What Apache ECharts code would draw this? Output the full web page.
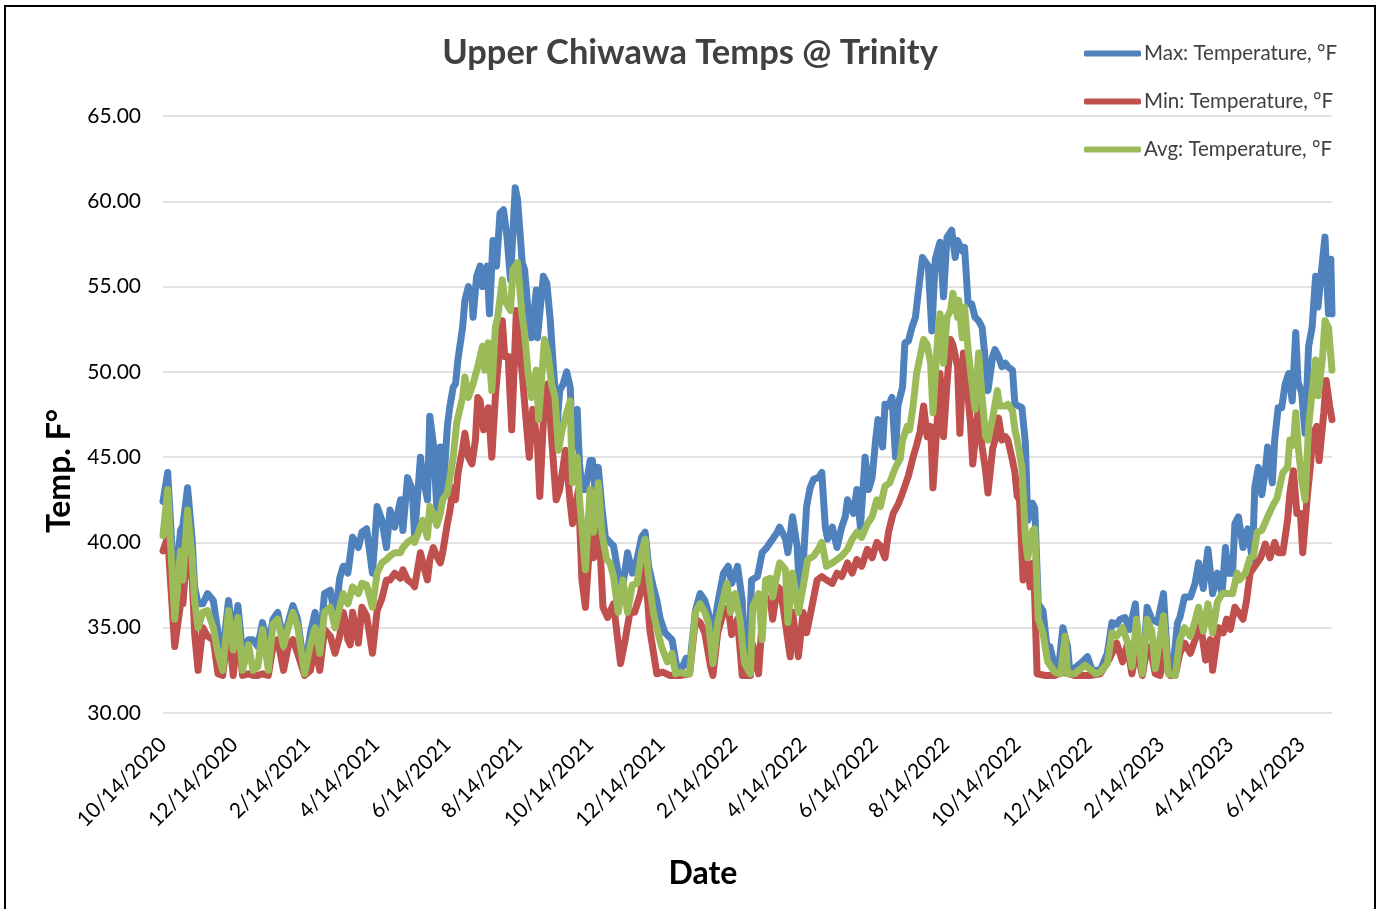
<!DOCTYPE html>
<html>
<head>
<meta charset="utf-8">
<title>Upper Chiwawa Temps @ Trinity</title>
<script src="https://cdn.jsdelivr.net/npm/echarts@6/dist/echarts.min.js"></script>
<style>
  html, body { margin: 0; padding: 0; background: #fff; }
  #chart { width: 1380px; height: 909px; }
</style>
</head>
<body>
<div id="chart"></div>
<script>
// readings are [day offset from 10/14/2020, °F]
const startDate = Date.UTC(2020, 9, 14);
const lastDay = 999;
const DAY = 86400000;

const tickLabels = ['10/14/2020', '12/14/2020', '2/14/2021', '4/14/2021', '6/14/2021', '8/14/2021',
  '10/14/2021', '12/14/2021', '2/14/2022', '4/14/2022', '6/14/2022', '8/14/2022', '10/14/2022',
  '12/14/2022', '2/14/2023', '4/14/2023', '6/14/2023'];

const maxTemp = [[0,42.4],[4,44.1],[10,37.0],[15,40.7],[17,41.0],[21,43.2],[25,40.1],[27,37.4],[30,36.4],[34,36.4],[38,37.0],[43,36.6],[47,34.7],[51,33.5],[56,36.6],[60,34.3],[64,36.3],[68,33.5],[73,34.3],[77,34.3],[81,33.9],[85,35.3],[90,33.9],[94,35.5],[98,35.9],[103,34.3],[107,35.3],[111,36.3],[115,35.5],[121,32.5],[126,34.7],[130,35.9],[134,33.9],[138,37.0],[143,37.2],[147,35.5],[151,37.9],[154,38.6],[156,38.6],[158,38.2],[162,40.3],[167,39.7],[170,40.6],[174,40.8],[179,38.2],[183,42.1],[187,41.3],[191,39.7],[194,41.9],[198,40.9],[203,42.5],[205,40.7],[209,43.8],[213,43.1],[215,40.3],[220,45.0],[222,43.9],[226,42.5],[228,47.4],[231,45.8],[234,42.0],[237,45.6],[239,42.5],[243,46.8],[245,47.9],[248,49.1],[250,49.3],[252,50.7],[256,52.6],[258,54.2],[261,55.0],[264,54.4],[265,53.2],[268,55.6],[271,56.2],[273,55.0],[277,56.2],[279,53.4],[282,57.7],[285,56.2],[288,59.3],[291,59.5],[294,57.9],[297,55.4],[301,60.8],[303,60.1],[307,56.4],[309,56.0],[312,53.6],[315,52.0],[319,54.8],[320,52.0],[325,55.6],[328,55.2],[331,53.0],[333,50.9],[337,47.0],[339,48.9],[342,49.3],[345,50.0],[348,49.1],[350,45.6],[352,47.6],[354,47.8],[355,46.0],[356,44.6],[358,43.1],[361,43.1],[365,44.8],[367,44.8],[369,43.2],[372,44.4],[375,42.1],[378,40.3],[382,40.0],[385,39.8],[388,38.6],[392,37.0],[397,39.4],[401,38.2],[405,39.0],[409,40.3],[412,40.6],[415,38.6],[419,37.4],[422,36.6],[425,35.5],[429,34.7],[432,34.5],[435,34.3],[439,32.7],[444,32.7],[447,33.2],[450,32.7],[455,36.0],[459,37.0],[463,36.6],[466,35.9],[470,34.5],[474,36.4],[479,38.2],[483,38.6],[486,37.6],[491,38.6],[495,36.6],[497,33.0],[500,32.6],[503,37.8],[508,38.0],[512,39.4],[516,39.7],[521,40.2],[525,40.6],[527,40.9],[532,40.2],[534,39.4],[538,41.5],[542,39.7],[544,37.0],[547,38.6],[550,42.1],[553,43.2],[556,43.7],[560,43.8],[563,44.1],[566,40.9],[568,40.2],[572,40.9],[576,39.7],[580,40.9],[583,41.5],[585,42.5],[590,41.7],[593,43.1],[596,40.9],[600,45.0],[603,43.1],[606,43.8],[609,46.0],[611,47.2],[615,45.6],[617,48.1],[620,48.0],[623,48.5],[626,45.0],[628,48.0],[632,49.1],[634,51.7],[637,51.8],[640,52.6],[643,53.2],[645,54.4],[649,56.7],[651,56.5],[654,56.2],[657,52.4],[660,56.6],[664,57.6],[667,54.4],[670,57.9],[674,58.3],[677,56.7],[679,57.7],[683,57.1],[685,57.3],[688,54.0],[691,54.0],[694,53.2],[697,53.0],[700,52.6],[703,50.5],[705,48.9],[709,50.9],[711,51.3],[714,50.9],[717,50.3],[720,50.5],[722,50.3],[726,50.1],[728,48.1],[731,48.0],[734,47.9],[737,45.8],[739,41.3],[743,42.3],[745,42.0],[748,36.4],[752,36.0],[756,33.5],[758,33.9],[762,32.7],[765,32.4],[769,35.0],[773,33.9],[775,32.4],[784,32.9],[790,33.3],[794,32.5],[801,32.5],[807,33.5],[811,35.3],[815,35.2],[818,35.5],[822,35.6],[826,34.9],[831,36.4],[833,33.9],[837,32.3],[841,36.2],[845,35.5],[850,35.3],[852,36.0],[855,37.0],[859,32.4],[863,32.6],[867,35.3],[869,35.6],[873,36.8],[878,36.8],[882,37.6],[885,38.8],[889,37.3],[893,39.6],[897,37.0],[901,38.2],[905,37.0],[908,39.7],[910,38.2],[914,38.2],[916,41.1],[919,41.5],[923,39.7],[927,40.8],[931,39.0],[933,43.2],[936,44.4],[939,42.8],[942,44.2],[944,45.6],[948,43.5],[950,46.0],[953,47.9],[956,47.9],[959,49.3],[962,49.9],[965,48.3],[968,52.3],[970,49.4],[973,48.8],[976,46.4],[979,51.5],[982,52.6],[985,55.6],[987,53.8],[991,56.6],[993,57.9],[996,53.4],[998,56.6],[999,53.4]];

const minTemp = [[0,39.5],[4,40.3],[10,33.9],[15,36.4],[17,36.4],[21,40.0],[25,37.8],[27,34.7],[30,32.5],[34,35.0],[38,34.5],[43,34.3],[47,32.3],[51,32.2],[56,35.0],[60,32.2],[64,34.9],[68,32.2],[73,32.3],[77,32.2],[81,32.2],[85,32.3],[90,32.2],[94,33.9],[98,34.3],[103,32.5],[107,33.9],[111,34.3],[115,33.5],[121,32.2],[126,32.5],[130,33.9],[134,32.5],[138,34.9],[143,34.5],[147,33.5],[151,34.5],[154,35.9],[156,35.3],[158,34.3],[160,34.0],[162,35.9],[167,34.1],[170,36.2],[174,35.7],[179,33.5],[183,36.0],[187,36.7],[191,37.8],[194,37.8],[198,38.2],[203,37.9],[205,38.4],[209,37.8],[213,37.6],[215,37.4],[220,39.4],[222,38.8],[226,37.8],[228,39.0],[231,39.7],[234,39.2],[237,38.8],[239,39.4],[243,41.1],[245,41.8],[248,43.2],[250,42.5],[252,44.0],[256,45.5],[258,46.4],[261,45.0],[264,44.6],[267,46.0],[269,48.5],[271,48.3],[274,46.6],[278,47.9],[281,45.0],[284,48.5],[286,50.1],[290,53.0],[292,50.9],[295,50.9],[298,46.6],[302,53.6],[303,52.5],[307,49.9],[309,48.2],[313,45.0],[316,47.8],[320,45.8],[322,42.7],[326,48.5],[329,49.3],[332,46.2],[336,42.5],[339,43.1],[344,45.4],[348,42.3],[350,41.1],[355,43.1],[358,37.8],[361,36.2],[365,40.3],[368,39.1],[372,41.7],[376,36.2],[380,35.6],[385,36.4],[391,32.9],[395,34.3],[399,35.9],[403,35.9],[408,37.0],[412,38.6],[416,34.9],[422,32.3],[427,32.4],[433,32.2],[442,32.2],[450,32.3],[455,35.5],[459,35.3],[463,34.7],[468,32.7],[470,32.2],[474,34.7],[479,35.9],[483,36.2],[486,34.6],[491,35.5],[495,32.2],[502,32.2],[504,34.0],[509,32.3],[513,36.5],[515,36.8],[519,36.6],[521,35.5],[525,37.4],[527,37.3],[530,36.2],[536,33.3],[538,35.9],[543,33.3],[547,35.9],[550,34.7],[555,36.4],[559,37.8],[563,38.0],[567,37.8],[572,37.6],[576,38.2],[580,38.0],[585,38.8],[589,38.2],[593,39.0],[597,38.6],[602,39.6],[606,39.1],[610,40.0],[613,39.8],[617,39.1],[620,40.6],[624,41.7],[628,42.2],[632,42.9],[637,43.9],[641,45.0],[644,45.7],[647,46.5],[650,48.0],[653,46.2],[656,46.8],[658,43.2],[662,47.5],[664,49.9],[667,46.2],[670,49.3],[673,51.9],[675,51.6],[679,50.3],[681,46.4],[684,51.1],[687,49.3],[690,47.0],[692,44.6],[697,48.1],[700,45.6],[703,44.2],[705,42.9],[709,45.5],[711,46.0],[714,47.3],[717,46.0],[720,46.2],[722,46.0],[726,44.8],[728,44.1],[730,42.7],[732,42.5],[735,37.8],[738,39.0],[741,37.4],[744,38.8],[747,32.3],[754,32.2],[762,32.2],[769,32.4],[779,32.2],[792,32.2],[801,32.3],[809,33.2],[815,34.1],[820,33.0],[824,34.0],[828,32.3],[832,33.8],[837,32.2],[841,33.9],[844,33.7],[848,32.3],[852,32.2],[856,33.9],[861,32.2],[865,32.2],[869,33.5],[873,34.1],[878,33.5],[882,34.3],[886,35.5],[891,33.1],[895,34.3],[897,32.5],[902,35.0],[906,34.7],[909,35.5],[912,34.9],[916,36.2],[920,35.8],[923,35.5],[926,36.6],[929,38.2],[933,38.6],[938,39.1],[942,39.9],[946,39.1],[950,40.0],[953,39.4],[957,39.4],[961,41.3],[963,42.9],[966,44.2],[969,41.7],[972,41.7],[974,39.4],[978,42.8],[980,44.1],[983,46.4],[986,46.8],[988,44.8],[992,47.6],[994,49.5],[997,48.0],[999,47.2]];

const avgTemp = [[0,40.4],[4,43.1],[10,35.5],[15,39.5],[17,37.8],[21,41.9],[25,39.0],[27,36.6],[30,35.0],[34,35.9],[38,36.0],[43,35.0],[47,33.5],[51,32.5],[56,36.0],[60,33.7],[64,35.6],[68,32.5],[73,34.0],[77,32.5],[81,32.7],[85,34.9],[90,32.5],[94,35.2],[98,35.5],[103,33.9],[107,35.0],[111,35.9],[115,35.1],[121,32.3],[126,34.0],[130,35.0],[134,33.5],[138,35.9],[143,36.2],[147,35.0],[151,36.2],[154,37.0],[158,36.4],[162,37.4],[167,37.0],[170,37.6],[174,37.5],[179,36.2],[183,38.2],[187,38.8],[191,39.0],[194,39.2],[198,39.4],[203,39.4],[205,39.7],[209,40.0],[213,40.2],[215,40.0],[220,40.9],[222,41.3],[226,40.3],[228,42.1],[231,41.7],[234,41.0],[237,41.7],[239,42.5],[243,42.9],[245,43.7],[248,45.0],[251,47.0],[256,48.5],[258,49.7],[261,48.5],[265,49.3],[269,50.3],[273,51.5],[275,50.1],[278,51.7],[281,48.9],[284,52.6],[286,53.2],[290,55.4],[292,54.2],[297,53.6],[299,56.0],[303,56.4],[307,53.2],[309,52.3],[312,49.9],[315,48.5],[319,50.1],[321,47.2],[326,51.9],[329,51.1],[332,49.3],[335,48.5],[338,45.4],[341,46.6],[345,47.6],[348,48.3],[349,45.6],[350,43.5],[354,45.0],[356,42.5],[358,40.9],[361,38.4],[365,43.1],[368,40.6],[372,43.5],[375,40.6],[379,39.0],[382,38.8],[385,38.0],[389,35.9],[393,37.8],[397,35.9],[401,37.5],[405,37.6],[409,39.4],[412,40.2],[415,38.0],[419,35.9],[423,34.7],[426,33.9],[431,33.0],[435,33.5],[438,32.3],[442,32.4],[446,32.3],[450,32.3],[455,35.9],[459,36.4],[463,35.9],[466,35.3],[470,32.9],[474,35.3],[479,36.8],[482,37.6],[485,35.9],[489,37.0],[493,35.5],[497,32.9],[502,32.3],[504,36.2],[509,37.0],[512,34.3],[515,37.8],[519,37.9],[521,36.8],[525,38.2],[527,38.8],[532,38.4],[534,35.3],[538,38.2],[543,35.9],[547,37.4],[551,39.0],[556,39.2],[560,39.6],[563,40.0],[567,38.6],[572,38.8],[576,39.0],[580,39.2],[585,39.6],[589,40.2],[593,40.6],[597,40.3],[602,41.1],[606,41.5],[610,42.5],[613,42.1],[617,43.3],[621,43.5],[626,44.4],[630,44.9],[632,46.0],[636,46.8],[638,46.6],[641,48.0],[644,49.9],[647,50.9],[650,51.9],[653,51.6],[656,50.5],[658,47.6],[662,52.0],[664,53.4],[667,50.5],[670,53.2],[673,53.6],[675,54.6],[679,53.2],[680,54.2],[683,52.0],[685,53.8],[688,51.3],[691,49.5],[694,47.8],[697,51.1],[700,48.5],[703,46.2],[705,46.0],[709,47.3],[713,48.9],[715,48.0],[720,48.0],[722,48.1],[726,47.7],[728,46.6],[730,46.0],[732,45.2],[734,44.4],[737,40.2],[739,39.1],[743,40.7],[745,40.8],[748,35.5],[752,34.7],[756,33.0],[762,32.4],[767,32.3],[771,34.5],[773,32.3],[779,32.3],[788,32.8],[797,32.3],[801,32.4],[807,32.9],[811,34.7],[815,34.5],[820,35.0],[824,34.2],[828,32.7],[832,35.5],[837,32.3],[841,35.5],[845,34.8],[848,32.6],[855,35.7],[859,32.3],[865,32.2],[869,34.3],[873,35.0],[878,34.5],[882,35.4],[885,36.2],[889,34.8],[893,36.4],[897,34.7],[901,36.5],[905,37.0],[909,37.0],[914,37.0],[918,38.2],[920,37.8],[925,38.2],[929,39.1],[932,39.2],[935,40.6],[939,40.7],[944,41.5],[948,42.1],[952,42.6],[955,43.5],[957,44.1],[961,44.4],[963,46.0],[966,45.7],[968,47.6],[970,45.7],[973,43.7],[976,42.5],[979,46.8],[982,48.8],[985,50.7],[987,48.6],[991,50.9],[993,53.0],[996,52.6],[999,50.1]];

function dayOf(s) {
  const [m, d, y] = s.split('/').map(Number);
  return Math.round((Date.UTC(y, m - 1, d) - startDate) / DAY);
}
function fmtDay(v) {
  const d = new Date(startDate + Math.round(v) * DAY);
  return (d.getUTCMonth() + 1) + '/' + d.getUTCDate() + '/' + d.getUTCFullYear();
}

const font = 'Lato, "Open Sans", sans-serif';
const chart = echarts.init(document.getElementById('chart'));

const option = {
  animation: false,
  backgroundColor: '#fff',
  color: ['#4F81BD', '#C0504D', '#9BBB59'],
  title: {
    text: 'Upper Chiwawa Temps @ Trinity',
    left: 'center',
    top: 30,
    textStyle: { fontFamily: font, fontSize: 34.5, fontWeight: 'bold', color: '#404040' }
  },
  legend: {
    orient: 'vertical',
    left: 1079,
    top: 38,
    itemWidth: 57,
    itemHeight: 6,
    itemGap: 27,
    icon: 'roundRect',
    textStyle: { fontFamily: font, fontSize: 20.5, color: '#404040', padding: [0, 0, 0, -2] }
  },
  grid: { left: 163, right: 48, top: 116, bottom: 196 },
  xAxis: {
    type: 'value',
    min: 0,
    max: lastDay,
    axisLine: { show: false },
    axisTick: { show: false },
    splitLine: { show: false },
    axisLabel: {
      customValues: tickLabels.map(dayOf),
      formatter: fmtDay,
      rotate: 45,
      margin: 28,
      fontFamily: font,
      fontSize: 21,
      color: '#000',
      hideOverlap: false
    }
  },
  yAxis: {
    type: 'value',
    min: 30,
    max: 65,
    interval: 5,
    axisLine: { show: false },
    axisTick: { show: false },
    axisLabel: {
      formatter: v => v.toFixed(2),
      margin: 22,
      fontFamily: font,
      fontSize: 21,
      color: '#000'
    },
    splitLine: { lineStyle: { color: '#D9D9D9', width: 1.5 } }
  },
  series: [
    { name: 'Max: Temperature, °F', type: 'line', data: maxTemp },
    { name: 'Min: Temperature, °F', type: 'line', data: minTemp },
    { name: 'Avg: Temperature, °F', type: 'line', data: avgTemp }
  ].map(s => Object.assign(s, {
    showSymbol: false,
    symbol: 'none',
    lineStyle: { width: 7, cap: 'round', join: 'round' }
  })),
  graphic: [
    {
      type: 'rect',
      shape: { x: 5, y: 6, width: 1370, height: 920 },
      style: { fill: 'none', stroke: '#000', lineWidth: 2 },
      silent: true
    },
    {
      type: 'text',
      x: 703, y: 874,
      style: { text: 'Date', fontFamily: font, fontSize: 32, fontWeight: 'bold', fill: '#000', align: 'center', verticalAlign: 'middle' }
    },
    {
      type: 'text',
      x: 60, y: 471,
      rotation: Math.PI / 2,
      style: { text: 'Temp. F°', fontFamily: font, fontSize: 32, fontWeight: 'bold', fill: '#000', align: 'center', verticalAlign: 'middle' }
    }
  ]
};

chart.setOption(option);
</script>
</body>
</html>
